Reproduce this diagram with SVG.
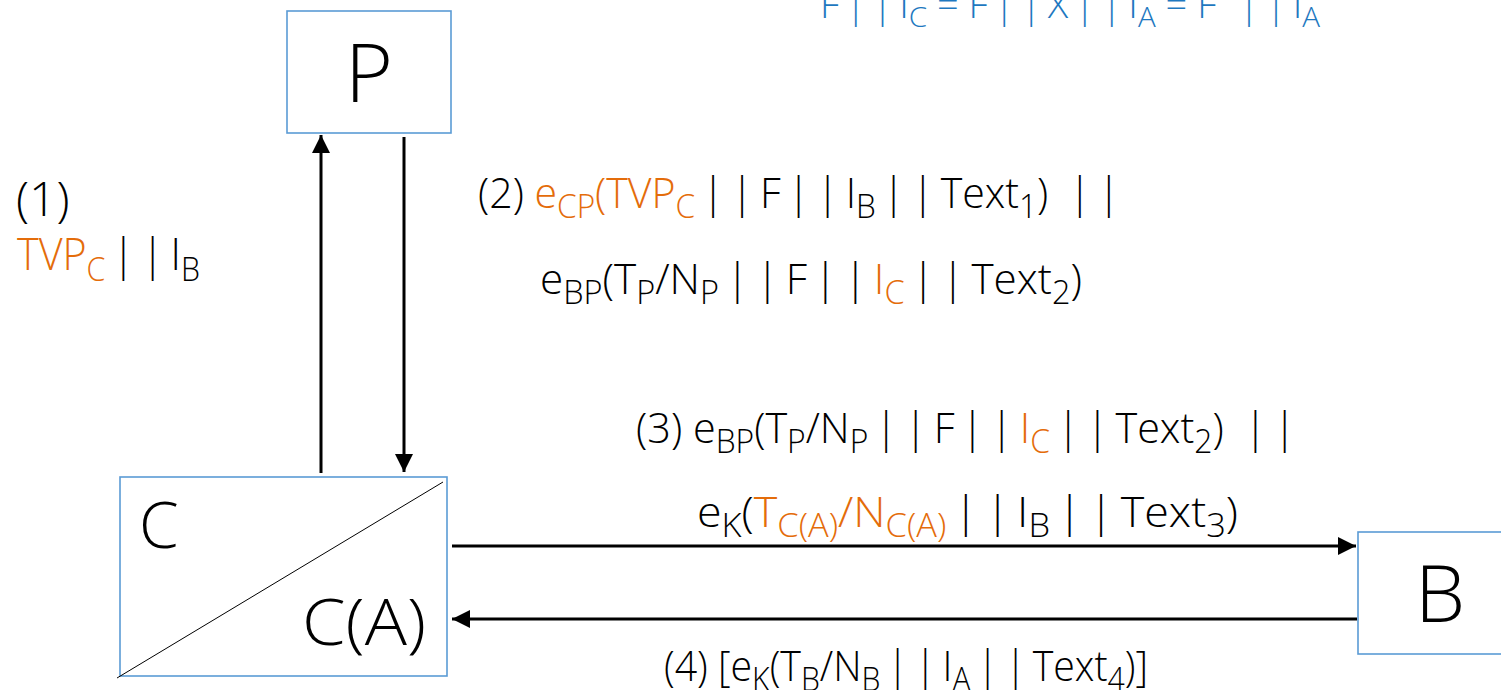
<svg xmlns="http://www.w3.org/2000/svg" width="1501" height="690" viewBox="0 0 1501 690">
<defs>
<marker id="ah" markerUnits="userSpaceOnUse" markerWidth="18" markerHeight="18" viewBox="0 0 16 16" refX="16" refY="8" orient="auto">
<path d="M0,0 L16,8 L0,16 Z" fill="#000"/>
</marker>
<style>
.box{fill:#fff;stroke:#5B9BD5;stroke-width:1.6}
.t{font-family:"Open Sans","Liberation Sans",sans-serif;font-weight:300;fill:#000}
.lbl{font-size:43px}
.s{font-size:33px}
.o{fill:#E46C0A}
.b{fill:#1E78C0}
.conn{stroke:#000;stroke-width:3;fill:none}
</style>
</defs>
<rect width="1501" height="690" fill="#fff"/>

<g id="connectors">
<line class="conn" x1="321" y1="473" x2="321" y2="135" marker-end="url(#ah)"/>
<line class="conn" x1="404" y1="137" x2="404" y2="472" marker-end="url(#ah)"/>
<line class="conn" x1="452" y1="546" x2="1356" y2="546" marker-end="url(#ah)"/>
<line class="conn" x1="1357" y1="619" x2="452" y2="619" marker-end="url(#ah)"/>
</g>

<g id="node-P">
<rect class="box" x="287" y="11" width="164" height="122"/>
<text class="t" x="369" y="102" font-size="82" text-anchor="middle">P</text>
</g>

<g id="node-C">
<rect class="box" x="120" y="477" width="327" height="199"/>
<line x1="117" y1="678" x2="443" y2="482" stroke="#000" stroke-width="1"/>
<text class="t" x="139" y="548" font-size="64">C</text>
<text class="t" x="302" y="645" font-size="64" textLength="124" lengthAdjust="spacingAndGlyphs">C(A)</text>
</g>

<g id="node-B">
<rect class="box" x="1358" y="532" width="150" height="122"/>
<text class="t" x="1440" y="622" font-size="80" text-anchor="middle">B</text>
</g>

<g id="labels">
<text class="t b" font-size="36" x="820" y="18" textLength="500" lengthAdjust="spacingAndGlyphs">F&#8201;|&#8201;|&#8201;I<tspan font-size="28" dy="9">C</tspan><tspan dy="-9"> = F&#8201;|&#8201;|&#8201;X&#8201;|&#8201;|&#8201;I</tspan><tspan font-size="28" dy="9">A</tspan><tspan dy="-9"> = F</tspan><tspan font-size="28" dy="-18">*</tspan><tspan dy="18">&#8201;|&#8201;|&#8201;I</tspan><tspan font-size="28" dy="9">A</tspan></text>

<text class="t" x="16" y="216" font-size="48">(1)</text>
<text class="t" font-size="45" x="17" y="270" textLength="183" lengthAdjust="spacingAndGlyphs"><tspan class="o">TVP</tspan><tspan class="s o" dy="11">C</tspan><tspan dy="-11">&#8201;|&#8201;|&#8201;I</tspan><tspan class="s" dy="11">B</tspan></text>

<text class="t lbl" x="478" y="208" textLength="642" lengthAdjust="spacingAndGlyphs">(2) <tspan class="o">e</tspan><tspan class="s o" dy="10">CP</tspan><tspan class="o" dy="-10">(TVP</tspan><tspan class="s o" dy="10">C</tspan><tspan dy="-10">&#8201;|&#8201;|&#8201;F&#8201;|&#8201;|&#8201;I</tspan><tspan class="s" dy="10">B</tspan><tspan dy="-10">&#8201;|&#8201;|&#8201;Text</tspan><tspan class="s" dy="10">1</tspan><tspan dy="-10">)&#8201;&#8201;&#8201;|&#8201;|</tspan></text>

<text class="t lbl" x="540" y="294" textLength="542" lengthAdjust="spacingAndGlyphs">e<tspan class="s" dy="10">BP</tspan><tspan dy="-10">(T</tspan><tspan class="s" dy="10">P</tspan><tspan dy="-10">/N</tspan><tspan class="s" dy="10">P</tspan><tspan dy="-10">&#8201;|&#8201;|&#8201;F&#8201;|&#8201;|&#8201;</tspan><tspan class="o">I</tspan><tspan class="s o" dy="10">C</tspan><tspan dy="-10">&#8201;|&#8201;|&#8201;Text</tspan><tspan class="s" dy="10">2</tspan><tspan dy="-10">)</tspan></text>

<text class="t lbl" x="636" y="443" textLength="660" lengthAdjust="spacingAndGlyphs">(3) e<tspan class="s" dy="10">BP</tspan><tspan dy="-10">(T</tspan><tspan class="s" dy="10">P</tspan><tspan dy="-10">/N</tspan><tspan class="s" dy="10">P</tspan><tspan dy="-10">&#8201;|&#8201;|&#8201;F&#8201;|&#8201;|&#8201;</tspan><tspan class="o">I</tspan><tspan class="s o" dy="10">C</tspan><tspan dy="-10">&#8201;|&#8201;|&#8201;Text</tspan><tspan class="s" dy="10">2</tspan><tspan dy="-10">)&#8201;&#8201;&#8201;|&#8201;|</tspan></text>

<text class="t lbl" x="697" y="527" textLength="541" lengthAdjust="spacingAndGlyphs">e<tspan class="s" dy="10">K</tspan><tspan dy="-10">(</tspan><tspan class="o">T</tspan><tspan class="s o" dy="10">C(A)</tspan><tspan class="o" dy="-10">/N</tspan><tspan class="s o" dy="10">C(A)</tspan><tspan dy="-10">&#8201;|&#8201;|&#8201;I</tspan><tspan class="s" dy="10">B</tspan><tspan dy="-10">&#8201;|&#8201;|&#8201;Text</tspan><tspan class="s" dy="10">3</tspan><tspan dy="-10">)</tspan></text>

<text class="t lbl" x="664" y="681" textLength="484" lengthAdjust="spacingAndGlyphs">(4) [e<tspan class="s" dy="10">K</tspan><tspan dy="-10">(T</tspan><tspan class="s" dy="10">B</tspan><tspan dy="-10">/N</tspan><tspan class="s" dy="10">B</tspan><tspan dy="-10">&#8201;|&#8201;|&#8201;I</tspan><tspan class="s" dy="10">A</tspan><tspan dy="-10">&#8201;|&#8201;|&#8201;Text</tspan><tspan class="s" dy="10">4</tspan><tspan dy="-10">)]</tspan></text>
</g>
</svg>
